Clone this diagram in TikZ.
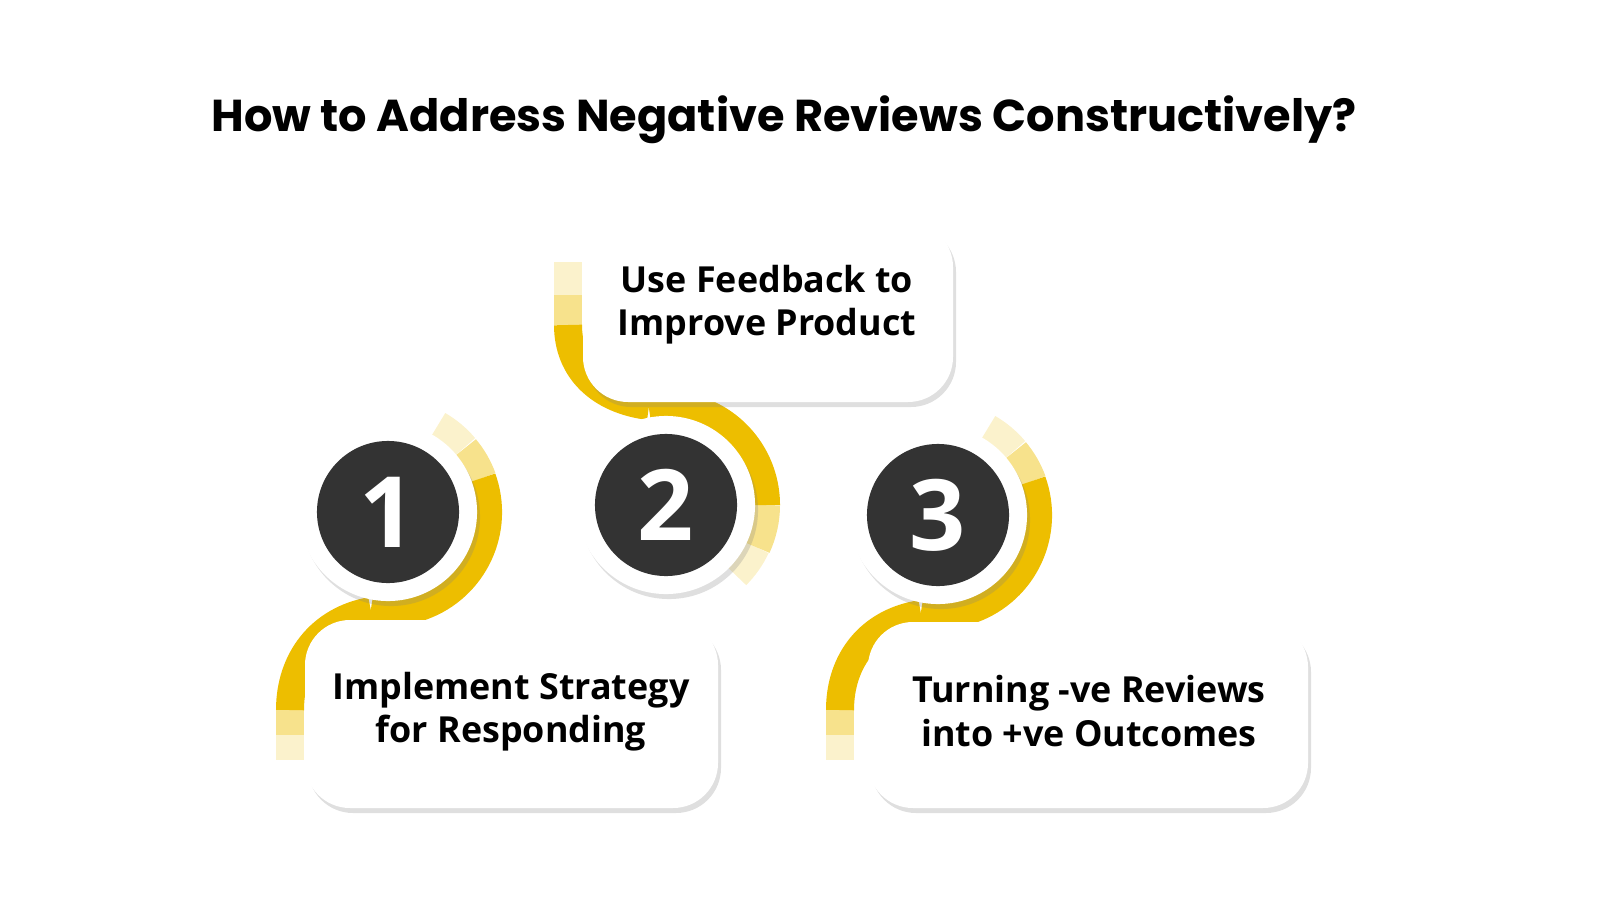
\documentclass[tikz,border=0pt]{standalone}
\usepackage{fontspec}
\setmainfont{Poppins}
\newfontfamily\bodyfont{Open Sans}
\usetikzlibrary{shadows}

\definecolor{ribbon}{HTML}{EDBE00}
\definecolor{disc}{HTML}{333333}

\tikzset{
  card/.style={draw=none,fill=white,rounded corners=0.45cm,
    drop shadow={opacity=0.25,shadow xshift=0.03cm,shadow yshift=-0.05cm}},
  ring/.style={circle,fill=white,minimum size=1.78cm,
    drop shadow={opacity=0.25,shadow xshift=0.03cm,shadow yshift=-0.05cm}},
  band/.style={ribbon,line width=0.28cm},
  steptext/.style={font=\bodyfont\fontsize{10.2}{12.3}\selectfont\bfseries,align=center,text=black},
  digit/.style={circle,fill=disc,minimum size=1.42cm,text=white,
    font=\bodyfont\fontsize{28}{28}\selectfont\bfseries}
}

\begin{document}
\begin{tikzpicture}[x=0.01cm,y=-0.01cm]
  \useasboundingbox (0,0) rectangle (1600,900);

  % Title
  \node (title) at (784,120) {\fontsize{12.7}{15}\selectfont\bfseries How to Address Negative Reviews Constructively?};

  % Ribbons
  \draw[band,opacity=0.2] (438,425) arc (-60:-40:100);
  \draw[band,opacity=0.45] (465,448) arc (-40:-20:100);
  \draw[band] (482,478) arc (-20:100:100);
  \draw[band] (371,611) .. controls (320,620) and (290,660) .. (290,710);
  \draw[band,opacity=0.45] (290,710) -- (290,735);
  \draw[band,opacity=0.2] (290,735) -- (290,760);

  \draw[band] (766,505) arc (0:-100:100);
  \draw[band,opacity=0.45] (766,505) arc (0:25:100);
  \draw[band,opacity=0.2] (756,547) arc (25:45:100);
  \draw[band] (649,406) .. controls (600,400) and (568,370) .. (568,325);
  \draw[band,opacity=0.45] (568,325) -- (568,295);
  \draw[band,opacity=0.2] (568,295) -- (568,262);

  \draw[band,opacity=0.2] (988,428) arc (-60:-40:100);
  \draw[band,opacity=0.45] (1015,451) arc (-40:-20:100);
  \draw[band] (1032,481) arc (-20:100:100);
  \draw[band] (921,614) .. controls (870,622) and (840,660) .. (840,710);
  \draw[band,opacity=0.45] (840,710) -- (840,735);
  \draw[band,opacity=0.2] (840,735) -- (840,760);

  % Cards
  \path[card] (305,620) rectangle (718,808);
  \path[card] (583,222) rectangle (953,402);
  \path[card] (868,622) rectangle (1308,808);
  \node[steptext] (t1) at (511,712) {Implement Strategy\\for Responding};
  \node[steptext] (t2) at (767,305) {Use Feedback to\\Improve Product};
  \node[steptext] (t3) at (1089,711) {Turning -ve Reviews\\into +ve Outcomes};

  % Numbered discs
  \node[ring] (r1) at (388,512) {};
  \node[digit] (n1) at (r1) {1};
  \node[ring] (r2) at (666,505) {};
  \node[digit] (n2) at (r2) {2};
  \node[ring] (r3) at (938,515) {};
  \node[digit] (n3) at (r3) {3};
\end{tikzpicture}
\end{document}
